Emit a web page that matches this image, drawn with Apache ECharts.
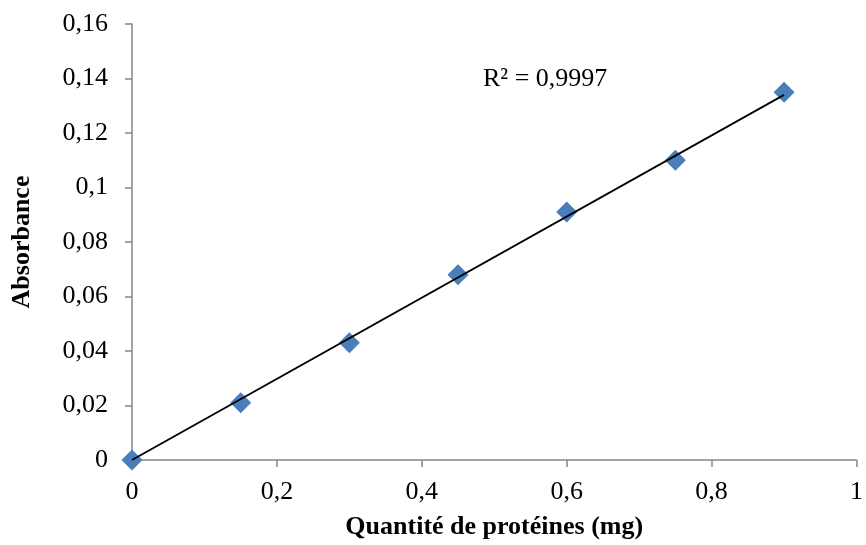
<!DOCTYPE html>
<html>
<head>
<meta charset="utf-8">
<script src="https://cdn.jsdelivr.net/npm/echarts@6/dist/echarts.min.js"></script>
<style>
	html, body { margin: 0; padding: 0; background: #fff; }
	#chart { width: 866px; height: 545px; }
</style>
</head>
<body>
<div id="chart"></div>
<script>
	'use strict'
	// Quantité de protéines (mg) vs absorbance
	var quantite = [0, 0.15, 0.3, 0.45, 0.6, 0.75, 0.9];
	var absorbance = [0, 0.021, 0.043, 0.068, 0.091, 0.110, 0.135];
	// linear trendline ends
	var trendX = [0, 0.9];
	var trendY = [0, 0.134];
	var r2Label = 'R² = 0,9997';

	var points = quantite.map(function(x, i) { return [x, absorbance[i]]; });
	var trend = trendX.map(function(x, i) { return [x, trendY[i]]; });

	function comma(v) {
		return String(v).replace('.', ',');
	}

	var axisGrey = '#868686';
	var font = 'Liberation Serif';

	var chart = echarts.init(document.getElementById('chart'));
	chart.setOption({
		animation: false,
		textStyle: { fontFamily: font },
		grid: {
			top: 24,
			right: 4,
			bottom: 84,
			left: 132
		},
		xAxis: {
			type: 'value',
			min: 0,
			max: 1,
			interval: 0.2,
			name: 'Quantité de protéines (mg)',
			nameLocation: 'middle',
			nameGap: 54,
			nameTextStyle: {
				fontFamily: font,
				fontSize: 26,
				fontWeight: 'bold',
				color: '#000'
			},
			axisLine: { lineStyle: { color: axisGrey, width: 1.5 } },
			axisTick: { show: true, length: 7, lineStyle: { color: axisGrey, width: 1.5 } },
			axisLabel: {
				fontFamily: font,
				fontSize: 26,
				color: '#000',
				margin: 19,
				formatter: comma
			},
			splitLine: { show: false }
		},
		yAxis: {
			type: 'value',
			min: 0,
			max: 0.16,
			interval: 0.02,
			name: 'Absorbance',
			nameLocation: 'middle',
			nameGap: 97,
			nameTextStyle: {
				fontFamily: font,
				fontSize: 26,
				fontWeight: 'bold',
				color: '#000'
			},
			axisLine: { show: true, lineStyle: { color: axisGrey, width: 1.5 } },
			axisTick: { show: true, length: 7, lineStyle: { color: axisGrey, width: 1.5 } },
			axisLabel: {
				fontFamily: font,
				fontSize: 26,
				color: '#000',
				margin: 24,
				formatter: comma
			},
			splitLine: { show: false }
		},
		series: [{
			name: 'Absorbance',
			type: 'scatter',
			data: points,
			symbol: 'diamond',
			symbolSize: [21, 21],
			itemStyle: { color: '#4a7ebb', opacity: 1 },
			z: 2
		}, {
			name: 'Linéaire',
			type: 'line',
			data: trend,
			symbol: 'none',
			lineStyle: { color: '#000', width: 1.8 },
			z: 3
		}],
		graphic: [{
			type: 'text',
			left: 483,
			top: 66,
			style: {
				text: r2Label,
				fontFamily: font,
				fontSize: 26,
				fill: '#000'
			}
		}]
	});
</script>
</body>
</html>
